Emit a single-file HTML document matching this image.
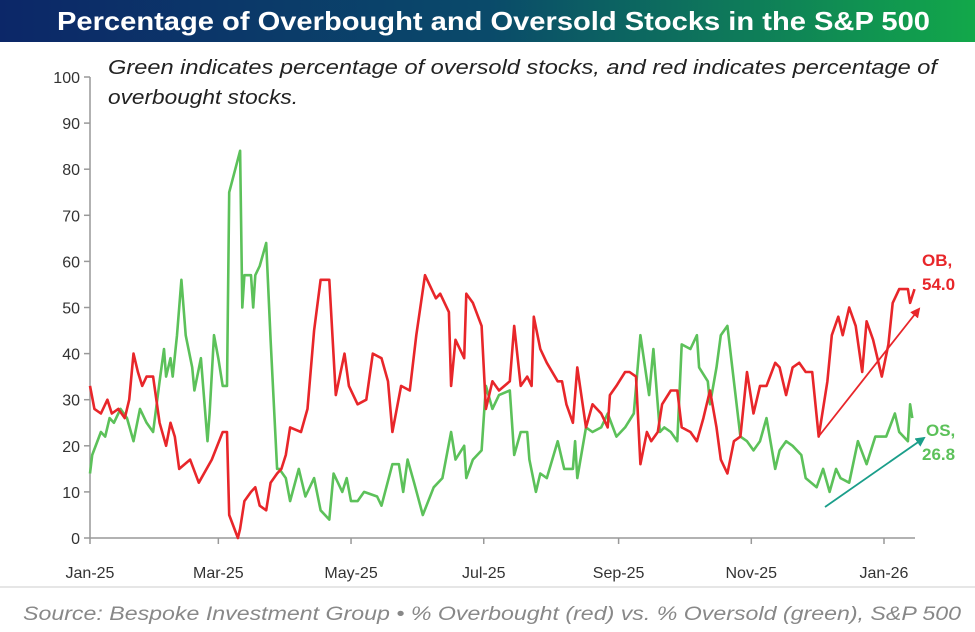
<!DOCTYPE html>
<html><head><meta charset="utf-8"><style>
html,body{margin:0;padding:0;background:#fff;width:975px;height:632px;overflow:hidden}
svg{display:block}
</style></head><body>
<svg id="chart" width="975" height="632" viewBox="0 0 975 632" xmlns="http://www.w3.org/2000/svg">
<defs>
<linearGradient id="tg" x1="0" x2="1" y1="0" y2="0">
<stop offset="0" stop-color="#0c2768"/><stop offset="0.5" stop-color="#0a4a6a"/><stop offset="1" stop-color="#12a84a"/>
</linearGradient>
<marker id="ar" markerWidth="10" markerHeight="10" refX="8" refY="5" orient="auto" markerUnits="userSpaceOnUse"><path d="M0,0 L10,5 L0,10 z" fill="#e8262a"/></marker>
<marker id="ag" markerWidth="10" markerHeight="10" refX="8" refY="5" orient="auto" markerUnits="userSpaceOnUse"><path d="M0,0 L10,5 L0,10 z" fill="#1a9e8a"/></marker>
</defs>
<rect x="0" y="0" width="975" height="42" fill="url(#tg)"/>
<text x="57" y="30" fill="#fff" font-family="Liberation Sans Narrow, Liberation Sans, sans-serif" font-weight="bold" font-size="26" textLength="873" lengthAdjust="spacingAndGlyphs">Percentage of Overbought and Oversold Stocks in the S&amp;P 500</text>
<text x="108" y="74" fill="#222" font-family="Liberation Sans Narrow, Liberation Sans, sans-serif" font-style="italic" font-size="20" textLength="829" lengthAdjust="spacingAndGlyphs">Green indicates percentage of oversold stocks, and red indicates percentage of</text>
<text x="108" y="104" fill="#222" font-family="Liberation Sans Narrow, Liberation Sans, sans-serif" font-style="italic" font-size="20" textLength="190" lengthAdjust="spacingAndGlyphs">overbought stocks.</text>
<g id="axes"></g>
<g id="series"></g>
<line x1="819" y1="436" x2="919" y2="309" stroke="#e8262a" stroke-width="1.8" marker-end="url(#ar)"/>
<line x1="825" y1="507" x2="924" y2="438" stroke="#1a9e8a" stroke-width="1.8" marker-end="url(#ag)"/>
<text x="922" y="266" fill="#e8262a" font-family="Liberation Sans, sans-serif" font-weight="bold" font-size="17">OB,</text>
<text x="922" y="290" fill="#e8262a" font-family="Liberation Sans, sans-serif" font-weight="bold" font-size="17">54.0</text>
<text x="926" y="436" fill="#5cc15a" font-family="Liberation Sans, sans-serif" font-weight="bold" font-size="17">OS,</text>
<text x="922" y="460" fill="#5cc15a" font-family="Liberation Sans, sans-serif" font-weight="bold" font-size="17">26.8</text>
<line x1="0" y1="587" x2="975" y2="587" stroke="#ddd" stroke-width="1.5"/>
<text x="23" y="620" fill="#888" font-family="Liberation Sans, sans-serif" font-style="italic" font-size="19" textLength="938" lengthAdjust="spacingAndGlyphs">Source: Bespoke Investment Group • % Overbought (red) vs. % Oversold (green), S&amp;P 500</text>
</svg>
<script>
const yTicks=[0,10,20,30,40,50,60,70,80,90,100];
const xTickDays=[0,59,120,181,243,304,365];
const xTickLabels=["Jan-25","Mar-25","May-25","Jul-25","Sep-25","Nov-25","Jan-26"];
const obDays=[0,2,5,8,10,13,16,18,20,22,24,26,29,32,35,37,39,41,46,50,56,61,63,64,68,69,71,74,76,78,81,83,86,88,90,92,97,100,103,106,110,113,117,119,123,127,130,134,137,139,143,147,150,154,159,161,165,166,168,172,173,176,180,182,185,188,193,195,198,201,203,204,207,210,215,217,219,222,224,228,231,235,238,239,242,246,248,251,253,256,258,261,263,267,270,272,276,279,282,285,288,290,293,296,299,302,305,308,311,315,317,320,323,326,329,332,335,339,341,344,346,349,352,355,357,360,364,367,369,372,376,377,379];
const obValues=[33,28,27,30,27,28,26,30,40,36,33,35,35,25,20,25,22,15,17,12,17,23,23,5,0,2,8,10,11,7,6,12,14,15,18,24,23,28,45,56,56,31,40,33,29,30,40,39,34,23,33,32,44,57,52,53,49,33,43,39,53,51,46,28,34,32,34,46,33,35,33,48,41,38,34,34,29,25,37,24,29,27,24,31,33,36,36,35,16,23,21,23,29,32,32,24,23,21,26,32,24,17,14,21,22,36,27,33,33,38,37,31,37,38,36,36,22,34,44,48,44,50,46,36,47,43,35,42,51,54,54,51,54];
const osDays=[0,1,5,7,9,11,14,17,20,23,26,29,32,34,35,37,38,40,42,44,47,48,51,54,55,57,59,61,63,64,69,70,71,74,75,76,78,81,83,86,87,90,92,96,99,103,106,110,112,116,118,120,123,126,132,134,139,142,144,146,149,153,158,162,166,168,172,173,176,180,182,185,188,193,195,198,201,202,205,207,210,215,218,222,223,224,228,231,235,238,242,246,250,253,257,259,262,264,267,270,272,276,279,280,284,285,288,290,293,296,299,302,305,308,311,315,317,320,323,327,329,334,337,340,343,345,349,353,357,361,366,370,372,376,377,378];
const osValues=[14,18,23,22,26,25,28,26,21,28,25,23,34,41,35,39,35,44,56,44,37,32,39,21,27,44,39,33,33,75,84,50,57,57,50,57,59,64,43,15,15,13,8,15,9,13,6,4,14,10,13,8,8,10,9,7,16,16,10,17,12,5,11,13,23,17,20,13,17,19,33,28,31,32,18,23,23,17,10,14,13,21,15,15,21,13,24,23,24,27,22,24,27,44,31,41,23,24,23,21,42,41,44,37,34,29,37,44,46,34,22,21,19,21,26,15,19,21,20,18,13,11,15,10,15,13,12,21,16,22,22,27,23,21,29,26];

const X0=90, PX_PER_DAY=(884-90)/365, Y0=538, PX_PER_UNIT=4.61;
const xs=d=>X0+d*PX_PER_DAY;
const ys=v=>Y0-v*PX_PER_UNIT;
const NS="http://www.w3.org/2000/svg";
const axes=document.getElementById('axes');
const series=document.getElementById('series');
function mk(tag,attrs,parent){const e=document.createElementNS(NS,tag);for(const k in attrs)e.setAttribute(k,attrs[k]);parent.appendChild(e);return e;}

const yAxis=mk('line',{x1:X0,y1:ys(100),x2:X0,y2:Y0,stroke:'#999','stroke-width':1.5},axes);


const xAxis=mk('line',{x1:X0,y1:Y0,x2:915,y2:Y0,stroke:'#999','stroke-width':1.5},axes);


yTicks.forEach(v=>{
  const t=mk('line',{x1:X0-6,y1:ys(v),x2:X0,y2:ys(v),stroke:'#999','stroke-width':1.5},axes);
  
  
  const l=mk('text',{x:X0-10,y:ys(v)+6,'text-anchor':'end','font-family':'Liberation Sans, sans-serif','font-size':16,fill:'#333'},axes);
  l.textContent=v;
  
  
});
xTickDays.forEach((d,i)=>{
  const t=mk('line',{x1:xs(d),y1:Y0,x2:xs(d),y2:Y0+6,stroke:'#999','stroke-width':1.5},axes);
  
  
  const l=mk('text',{x:xs(d),y:578,'text-anchor':'middle','font-family':'Liberation Sans, sans-serif','font-size':16,fill:'#333'},axes);
  l.textContent=xTickLabels[i];
  
  
});
function line(days,vals,color){
  return days.map((d,i)=>(i?'L':'M')+xs(d).toFixed(1)+','+ys(vals[i]).toFixed(1)).join(' ');
}
const os=mk('path',{d:line(osDays,osValues),fill:'none',stroke:'#5cc15a','stroke-width':2.6,'stroke-linejoin':'round'},series);


const ob=mk('path',{d:line(obDays,obValues),fill:'none',stroke:'#e8262a','stroke-width':2.6,'stroke-linejoin':'round'},series);


</script>
</body></html>
